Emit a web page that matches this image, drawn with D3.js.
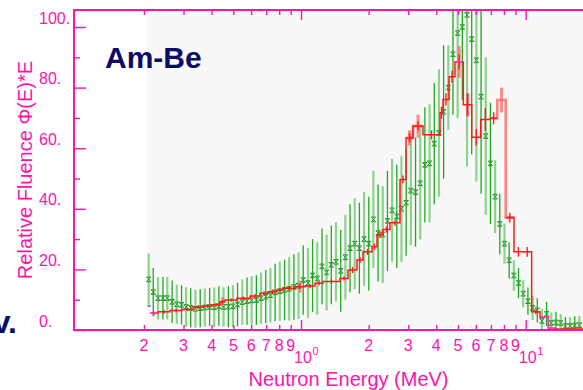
<!DOCTYPE html>
<html>
<head>
<meta charset="utf-8">
<script src="https://cdn.jsdelivr.net/npm/d3@7"></script>
<style>
  body { margin: 0; background: #fff; }
  svg { display: block; }
  text { font-family: "Liberation Sans", Arial, sans-serif; }
</style>
</head>
<body>
<svg id="chart" width="583" height="390"></svg>
<script>
// green unfolded points (energy MeV, value, half error)
const greenE = [0.210,0.220,0.231,0.243,0.254,0.267,0.280,0.294,0.308,0.323,0.339,0.356,0.373,0.392,0.411,0.431,0.452,0.475,0.498,0.522,0.548,0.575,0.603,0.633,0.664,0.697,0.731,0.767,0.805,0.845,0.886,0.930,0.975,1.023,1.074,1.126,1.181,1.240,1.300,1.364,1.431,1.502,1.576,1.653,1.734,1.819,1.909,2.003,2.100,2.203,2.311,2.425,2.544,2.669,2.800,2.938,3.082,3.234,3.393,3.559,3.734,3.918,4.110,4.312,4.524,4.746,4.979,5.224,5.481,5.750,6.032,6.329,6.640,6.967,7.309,7.668,8.045,8.440,8.855,9.290,9.747,10.23,10.73,11.26,11.81,12.39,13.00,13.64,14.31,15.02,15.76,16.53,17.34];
const greenV = [16.7,12.5,10.5,10.5,10.5,9.3,8.5,8.3,7.6,7.3,7.0,
  7.2,7.4,7.6,7.5,7.9,7.6,7.7,7.8,8.4,9.2,
  9.5,9.8,9.9,10.5,11.0,11.5,12.4,12.8,13.2,13.6,14.2,14.6,
  16.5,15.5,18.0,17.0,21.0,19.0,21.5,22.5,19.5,24.0,27.0,28.5,27.0,30.0,28.5,
  36.5,32.0,31.5,36.0,39.5,37.5,40.0,42.0,46.0,45.5,48.4,
  54.5,55.0,61.5,65.0,72.0,80.0,91.0,98.0,100.0,104.0,
  96.0,89.0,77.0,64.0,55.0,44.0,35.0,28.5,23.0,18.0,15.5,12.0,
  9.5,7.3,6.5,3.0,5.3,2.3,2.5,2.3,1.3,1.3,1.5,1.6];
const greenErr = [8.5,8,7,7,7,
  7,6.5,6.5,6.5,6.5,6.3,
  6.3,6.3,6.3,6.5,6.5,6.5,6.8,7,7.2,7.5,
  7.8,8,8.2,8.5,8.8,9,9.5,9.8,10,10.5,10.8,11,
  11.5,11.5,12,12,12.5,12.5,13,13,13.5,14,14.5,15,15,15.5,15.5,
  16,16,16,16.5,17,17,17.5,17.5,18,18,18.5,
  19,19.5,20,21,22,14,20,28,24,50,
  38,40,32,26,20,12,10,6.6,6,5,5,4.5,
  4.5,4,4,4,4,3.5,3.5,3,3,3,3,3];

// red histogram (bin edges in MeV, bin values, half error)
const redEdges = [0.2128,0.2310,0.2612,0.2954,0.3307,0.3664,0.4017,0.4359,0.4588,0.5189,0.5930,0.6570,0.7129,0.7819,0.8317,0.9404,1.042,1.154,1.253,1.492,1.619,1.775,1.888,2.070,2.179,2.317,2.489,2.758,2.934,3.151,3.491,4.156,4.285,4.557,4.846,5.277,5.751,6.306,6.936,7.472,8.147,8.870,9.70,10.63,11.58,12.61,13.50,18.0];
const redVals = [5.5,6.0,6.4,6.8,7.5,7.9,8.3,9.3,9.9,10.5,
  11.2,12.1,12.6,13.2,13.8,14.3,14.5,15.4,16.0,17.0,
  19.8,23.1,25.8,27.5,31.4,33.2,35.4,
  49.7,63.4,67.3,64.4,71.7,76.1,83.6,88.5,
  74.3,63.6,69.5,69.9,null,37.1,25.8,25.8,6.0,4.2,0.6,0.3];
const redErr = [0.6,0.6,0.6,0.6,0.6,0.6,0.6,0.6,0.6,0.6,
  0.7,0.7,0.7,0.7,0.7,0.7,0.7,0.7,0.7,0.7,
  1.0,1.0,1.0,1.0,1.0,1.0,1.0,
  1.3,1.5,1.5,1.5,2.0,2.0,2.0,2.5,
  3.8,2.7,3.8,2.0,0,1.6,1.6,1.6,0.8,0,0,0];
// light red histogram, only where it shows apart from the red one
const lightVals = [null,null,null,null,null,null,null,null,null,null,
  null,null,null,null,null,null,null,null,null,null,
  null,null,null,null,null,null,null,
  null,63.4,67.3,null,null,null,null,null,
  null,null,null,69.9,75.9,37.1,null,null,null,null,null,null];
const lightErr = [0,0,0,0,0,0,0,1.5,0,0,
  0,0,0,0,0,2.0,0,0,0,0,
  0,0,0,0,0,0,0,
  0,2.5,3.8,0,0,0,0,5.3,
  3.8,0,0,0,4.1,0,0,0,0,0,0,0];
// magenta histogram pieces
const magentaVals = [5.5,null,null,null,null,null,null,null,null,null,
  null,null,null,null,null,null,null,null,null,null,
  null,null,null,null,null,null,null,
  null,null,null,null,null,null,null,88.5,
  null,null,null,null,null,null,null,null,null,4.2,0.6,null];
// short blue piece
const blueEdges = [0.207, 0.2146];
const blueVals = [7.9];

const yTicks = [0, 20, 40, 60, 80, 100];
const yMinor = [10, 30, 50, 70, 90];
const xMinor = [0.2,0.3,0.4,0.5,0.6,0.7,0.8,0.9,2,3,4,5,6,7,8,9];
const xMajor = [1, 10];

const plotL = 74, plotR = 583, plotT = 10, plotB = 330;
const pink = "#ff14aa";

const svg = d3.select("#chart");

const x = d3.scaleLog().domain([1, 10]).range([301, 525.7]);
const y = d3.scaleLinear().domain([0, 100]).range([330, 27]);

svg.append("rect").attr("width", 583).attr("height", 390).attr("fill", "#fff");
svg.append("rect")
  .attr("x", 147).attr("y", 12)
  .attr("width", plotR - 147).attr("height", plotB - 14)
  .attr("fill", "#f8f8f8");

svg.append("defs").append("clipPath").attr("id", "plot")
  .append("rect")
  .attr("x", plotL).attr("y", plotT + 1)
  .attr("width", plotR - plotL).attr("height", plotB - plotT - 1);

const plot = svg.append("g").attr("clip-path", "url(#plot)");

// green error bars and markers
const pts = greenE.map((e, i) => ({ e, v: greenV[i], err: greenErr[i], light: i % 2 === 0 }));

plot.selectAll("line.gbar")
  .data(pts)
  .join("line")
  .attr("class", "gbar")
  .attr("x1", d => x(d.e))
  .attr("x2", d => x(d.e))
  .attr("y1", d => y(d.v - d.err))
  .attr("y2", d => y(d.v + d.err))
  .attr("stroke", d => d.light ? "#8ed28e" : "#1fa81f")
  .attr("stroke-width", d => d.light ? 2.2 : 1.3);

plot.selectAll("path.gmark")
  .data(pts)
  .join("path")
  .attr("class", "gmark")
  .attr("transform", d => `translate(${x(d.e)},${y(d.v)})`)
  .attr("d", "M-2,-2L2,2M2,-2L-2,2M-2.5,-2.3H2.5M-2.5,2.3H2.5")
  .attr("fill", "none")
  .attr("stroke", "#279a27")
  .attr("stroke-width", 1);

// step histograms
function stepPoints(edges, vals) {
  const out = [];
  vals.forEach((v, i) => {
    if (v == null) { out.push(null); return; }
    out.push([edges[i], v], [edges[i + 1], v]);
  });
  return out;
}
const stepLine = d3.line()
  .defined(d => d != null)
  .x(d => x(d[0]))
  .y(d => y(d[1]));

const bins = redVals.map((v, i) => ({
  c: Math.sqrt(redEdges[i] * redEdges[i + 1]),
  v: v != null ? v : lightVals[i],
  err: redErr[i],
  lerr: lightErr[i]
}));

// light red
plot.append("path")
  .attr("d", stepLine(stepPoints(redEdges, lightVals)))
  .attr("fill", "none")
  .attr("stroke", "#ff7070")
  .attr("stroke-opacity", 0.85)
  .attr("stroke-width", 2.6);

plot.selectAll("line.lerr")
  .data(bins.filter(d => d.lerr > 0))
  .join("line")
  .attr("class", "lerr")
  .attr("x1", d => x(d.c)).attr("x2", d => x(d.c))
  .attr("y1", d => y(d.v - d.lerr))
  .attr("y2", d => y(d.v + d.lerr))
  .attr("stroke", "#ff6a6a")
  .attr("stroke-opacity", 0.75)
  .attr("stroke-width", 3);

// red
plot.append("path")
  .attr("d", stepLine(stepPoints(redEdges, redVals)))
  .attr("fill", "none")
  .attr("stroke", "#ff1a1a")
  .attr("stroke-width", 1.5);

plot.selectAll("line.rerr")
  .data(bins.filter(d => d.err > 0))
  .join("line")
  .attr("class", "rerr")
  .attr("x1", d => x(d.c)).attr("x2", d => x(d.c))
  .attr("y1", d => y(d.v - d.err))
  .attr("y2", d => y(d.v + d.err))
  .attr("stroke", "#ff1a1a")
  .attr("stroke-width", 1.4);

// magenta and blue pieces
plot.append("path")
  .attr("d", stepLine(stepPoints(redEdges, magentaVals)))
  .attr("fill", "none")
  .attr("stroke", "#ff33c4")
  .attr("stroke-width", 1.5);

plot.append("path")
  .attr("d", stepLine(stepPoints(blueEdges, blueVals)))
  .attr("fill", "none")
  .attr("stroke", "#5570e0")
  .attr("stroke-width", 1.5);

// axes ticks (inward)
function styleAxis(g) {
  g.select(".domain").remove();
  g.selectAll(".tick line").attr("stroke", pink).attr("stroke-width", 1.4);
  g.selectAll(".tick text").remove();
}
svg.append("g").attr("transform", `translate(0,${plotB})`)
  .call(d3.axisBottom(x).tickValues(xMinor).tickSize(-5).tickFormat(""))
  .call(styleAxis);
svg.append("g").attr("transform", `translate(0,${plotB})`)
  .call(d3.axisBottom(x).tickValues(xMajor).tickSize(-10).tickFormat(""))
  .call(styleAxis);
svg.append("g").attr("transform", `translate(0,${plotT})`)
  .call(d3.axisTop(x).tickValues(xMinor).tickSize(-5).tickFormat(""))
  .call(styleAxis);
svg.append("g").attr("transform", `translate(0,${plotT})`)
  .call(d3.axisTop(x).tickValues(xMajor).tickSize(-10).tickFormat(""))
  .call(styleAxis);
svg.append("g").attr("transform", `translate(${plotL},0)`)
  .call(d3.axisLeft(y).tickValues(yTicks).tickSize(-12).tickFormat(""))
  .call(styleAxis);
svg.append("g").attr("transform", `translate(${plotL},0)`)
  .call(d3.axisLeft(y).tickValues(yMinor).tickSize(-6).tickFormat(""))
  .call(styleAxis);

// frame
svg.append("line").attr("x1", plotL).attr("x2", plotL).attr("y1", plotT).attr("y2", plotB)
  .attr("stroke", pink).attr("stroke-width", 2);
svg.append("line").attr("x1", plotL - 1).attr("x2", plotR).attr("y1", plotT).attr("y2", plotT)
  .attr("stroke", pink).attr("stroke-width", 2);
svg.append("line").attr("x1", plotL - 1).attr("x2", plotR).attr("y1", plotB).attr("y2", plotB)
  .attr("stroke", pink).attr("stroke-width", 2);

// y tick labels
svg.selectAll("text.ylab")
  .data(yTicks)
  .join("text")
  .attr("class", "ylab")
  .attr("x", 39)
  .attr("y", d => y(d) - 3.5)
  .attr("fill", pink)
  .style("font-size", "16px")
  .text(d => d + ".");

// x tick labels
svg.selectAll("text.xlab")
  .data(xMinor)
  .join("text")
  .attr("class", "xlab")
  .attr("x", d => x(d))
  .attr("y", 351)
  .attr("text-anchor", "middle")
  .attr("fill", pink)
  .style("font-size", "16px")
  .text(d => Math.round(d / Math.pow(10, Math.floor(Math.log10(d)))));

const dec = svg.selectAll("g.dec")
  .data(xMajor)
  .join("g")
  .attr("class", "dec")
  .attr("transform", d => `translate(${x(d)},0)`);
dec.append("text")
  .attr("x", 2).attr("y", 363)
  .attr("text-anchor", "middle")
  .attr("fill", pink)
  .style("font-size", "16px")
  .text("10");
dec.append("text")
  .attr("x", 11.5).attr("y", 354.5)
  .attr("fill", pink)
  .style("font-size", "11px")
  .text(d => Math.round(Math.log10(d)));

// axis titles
svg.append("text")
  .attr("x", 348.5).attr("y", 386)
  .attr("text-anchor", "middle")
  .attr("fill", pink)
  .style("font-size", "20px")
  .text("Neutron Energy (MeV)");

svg.append("text")
  .attr("transform", "translate(32,170) rotate(-90)")
  .attr("text-anchor", "middle")
  .attr("fill", pink)
  .style("font-size", "20px")
  .text("Relative Fluence \u03A6(E)*E");

// labels
svg.append("text")
  .attr("x", 105).attr("y", 68)
  .attr("fill", "#0c0c66")
  .style("font-size", "30px")
  .style("font-weight", "bold")
  .text("Am-Be");

svg.append("text")
  .attr("x", 17).attr("y", 333)
  .attr("text-anchor", "end")
  .attr("fill", "#0c0c66")
  .style("font-size", "32px")
  .style("font-weight", "bold")
  .text("v.");
</script>
</body>
</html>
